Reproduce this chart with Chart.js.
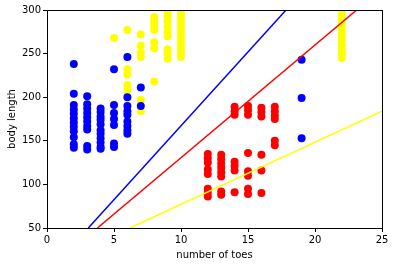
<!DOCTYPE html>
<html>
<head>
<meta charset="utf-8">
<script src="https://cdn.jsdelivr.net/npm/chart.js@4/dist/chart.umd.min.js"></script>
<style>
html,body{margin:0;padding:0;background:#fff;}
#wrap{width:395px;height:266px;position:relative;}
</style>
</head>
<body>
<div id="wrap"><canvas id="c" width="395" height="266"></canvas></div>
<script>
// Tick labels
const xTicks = [0, 5, 10, 15, 20, 25];
const yTicks = [50, 100, 150, 200, 250, 300];

// Blue class
const blueToes = [
  2,2,2,2,2,2,2,2,2,2,2,2,
  3,3,3,3,3,3,3,3,3,3,
  4,4,4,4,4,4,4,4,4,4,4,
  5,5,5,5,5,5,5,
  6,6,6,6,6,6,6,6,6,
  7,7,
  19,19,19
];
const blueLength = [
  238,204,191,186,181,176,171,166,161,154,146,142,
  201,192,187,182,177,172,167,163,144,140,
  187,183,178,174,169,162,158,153,148,143,141,
  232,191,182,175,168,147,143,
  246,200,190,184,180,172,167,162,158,
  211,190,
  243,199,153
];

// Yellow class
const yellowToes = [
  5,
  6,6,6,6,6,
  7,7,7,7,7,7,
  8,8,8,8,8,8,8,
  9,9,9,9,9,9,9,9,9,
  10,10,10,10,10,10,10,10,10,10,10,
  22,22,22,22,22,22,22,22,22,22,22
];
const yellowLength = [
  268,
  277,232,226,214,208,
  272,259,251,246,197,184,
  292,287,282,277,263,256,218,
  297,292,287,280,274,270,255,250,244,
  296,291,286,281,276,271,266,261,256,251,246,
  295,290,285,280,275,270,265,260,255,250,245
];

// Red class
const redToes = [
  12,12,12,12,12,12,12,12,
  13,13,13,13,13,13,13,13,
  14,14,14,14,14,14,14,
  15,15,15,15,15,15,15,15,
  16,16,16,16,16,16,
  17,17,17,17,17,17
];
const redLength = [
  135,130,125,117,112,95,90,86,
  134,129,124,119,114,109,92,88,
  189,184,180,126,121,116,91,
  190,185,180,136,115,110,95,89,
  188,183,178,134,116,90,
  189,184,179,175,150,145
];

// Boundary lines (endpoints)
const blueLineX = [3.08, 17.84];
const blueLineY = [50, 300];
const redLineX = [3.76, 23.11];
const redLineY = [50, 300];
const yellowLineX = [6.19, 25];
const yellowLineY = [50, 184];

const pts = (xs, ys) => xs.map((x, i) => ({x: x, y: ys[i]}));

const frame = {
  id: 'frame',
  afterDatasetsDraw(chart) {
    const a = chart.chartArea, ctx = chart.ctx;
    ctx.save();
    ctx.strokeStyle = '#000';
    ctx.lineWidth = 1;
    ctx.strokeRect(Math.round(a.left) + 0.5, Math.round(a.top) + 0.5,
      Math.round(a.right - a.left), Math.round(a.bottom - a.top));
    ctx.restore();
  }
};

const font = {family: 'DejaVu Sans', size: 10};

function scatterSet(xs, ys, color) {
  return {type: 'scatter', data: pts(xs, ys), backgroundColor: color, borderColor: color,
    borderWidth: 0, pointRadius: 4, pointHoverRadius: 4, order: 2};
}
function lineSet(xs, ys, color) {
  return {type: 'line', data: pts(xs, ys), borderColor: color, backgroundColor: color,
    borderWidth: 1.5, pointRadius: 0, fill: false, showLine: true, order: 1};
}

new Chart(document.getElementById('c'), {
  type: 'scatter',
  data: {
    datasets: [
      scatterSet(blueToes, blueLength, '#0000ff'),
      scatterSet(yellowToes, yellowLength, '#ffff00'),
      scatterSet(redToes, redLength, '#ff0000'),
      lineSet(blueLineX, blueLineY, '#0000ff'),
      lineSet(redLineX, redLineY, '#ff0000'),
      lineSet(yellowLineX, yellowLineY, '#ffff00')
    ]
  },
  options: {
    responsive: false,
    animation: false,
    events: [],
    layout: {padding: {left: 6, right: 13, top: 10, bottom: 5}},
    plugins: {legend: {display: false}, tooltip: {enabled: false}},
    scales: {
      x: {
        type: 'linear', min: 0, max: 25,
        afterBuildTicks(s) { s.ticks = xTicks.map(v => ({value: v})); },
        afterFit(s) { s.height = 33; },
        grid: {display: true, drawOnChartArea: false, drawTicks: true, tickLength: 4, color: '#000'},
        border: {display: false},
        ticks: {color: '#000', font: font, padding: 2, maxRotation: 0},
        title: {display: true, text: 'number of toes', color: '#000', font: font, padding: {top: 2, bottom: 0}}
      },
      y: {
        type: 'linear', min: 50, max: 300,
        afterBuildTicks(s) { s.ticks = yTicks.map(v => ({value: v})); },
        afterFit(s) { s.width = 41; },
        grid: {display: true, drawOnChartArea: false, drawTicks: true, tickLength: 4, color: '#000'},
        border: {display: false},
        ticks: {color: '#000', font: font, padding: 2},
        title: {display: true, text: 'body length', color: '#000', font: font, padding: {top: 0, bottom: 2}}
      }
    }
  },
  plugins: [frame]
});
</script>
</body>
</html>
